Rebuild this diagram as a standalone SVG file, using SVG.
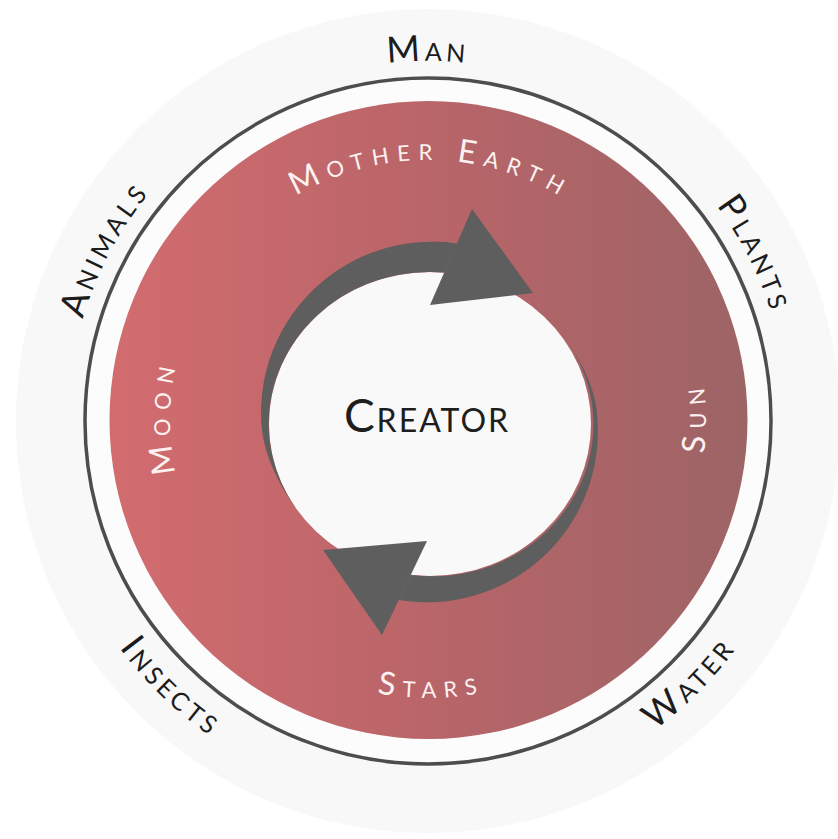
<svg xmlns="http://www.w3.org/2000/svg" width="838" height="839" viewBox="0 0 838 839">
<defs>
<linearGradient id="redGrad" gradientUnits="userSpaceOnUse" x1="110" y1="0" x2="747" y2="0">
<stop offset="0" stop-color="#d26c6f"/>
<stop offset="0.5" stop-color="#b96569"/>
<stop offset="1" stop-color="#9d6466"/>
</linearGradient>
<path id="p-man" d="M116.2,241 A360,360 0 0 1 739.8,241"/>
<path id="p-plants" d="M446.8,61.5 A360,360 0 0 1 729.9,617.1"/>
<path id="p-animals" d="M122.7,611.8 A360,360 0 0 1 415.4,61.2"/>
<path id="p-insects" d="M56.4,328.3 A383,383 0 0 0 533.6,789.2"/>
<path id="p-water" d="M328.9,791 A383,383 0 0 0 798,321.9"/>
<path id="p-earth" d="M183.7,331.1 A260,260 0 0 1 672.3,331.1"/>
<path id="p-moon" d="M339.8,662.4 A258,258 0 0 1 339.8,177.6"/>
<path id="p-stars" d="M166.8,515.1 A278,278 0 0 0 689.2,515.1"/>
<path id="p-sun" d="M523.1,681.2 A278,278 0 0 0 523.1,158.8"/>
</defs>
<style>
.out{font-family:Lato,"Open Sans","Liberation Sans",sans-serif;fill:#1c1c1c;letter-spacing:4px;font-size:36px;font-variant:small-caps}
.in{font-family:Lato,"Open Sans","Liberation Sans",sans-serif;fill:#fdf2f2;letter-spacing:8px;font-size:32px;font-variant:small-caps}
.arrow{fill:#5e5e5e}
</style>
<rect width="838" height="839" fill="#ffffff"/>
<g id="background">
<circle cx="428" cy="421" r="412" fill="#f8f8f8"/>
<circle cx="428" cy="421" r="343" fill="#fcfcfc" stroke="#4d4d4d" stroke-width="3.5"/>
</g>
<g id="mother-earth-disc">
<circle cx="428.5" cy="420" r="319" fill="url(#redGrad)"/>
</g>
<g id="creator">
<ellipse cx="430" cy="424" rx="161" ry="152" fill="#f9f9f9"/>
<text x="427" y="432" text-anchor="middle" font-family="Lato,'Open Sans','Liberation Sans',sans-serif" font-size="46" font-variant="small-caps" fill="#1e1e1e" letter-spacing="2">Creator</text>
</g>
<g id="connectors">
<path class="arrow" d="M456.9,243.5 A171,171 0 0 0 261.5,425 C263.7,455 279.4,485.7 297,510 A161,152 0 0 1 444.2,272.6 Z"/>
<polygon class="arrow" points="472,209 533,293 430,305"/>
<path class="arrow" d="M398.8,600 A171,171 0 0 0 597.5,419 C596.5,389 580,358 562,334 A161,152 0 0 1 410.8,574.9 Z"/>
<polygon class="arrow" points="382,635 323,550 427,541"/>
</g>
<g id="label-man"><text class="out" text-anchor="middle"><textPath href="#p-man" startOffset="50%">Man</textPath></text></g>
<g id="label-plants"><text class="out" text-anchor="middle"><textPath href="#p-plants" startOffset="50%">Plants</textPath></text></g>
<g id="label-animals"><text class="out" text-anchor="middle"><textPath href="#p-animals" startOffset="50%">Animals</textPath></text></g>
<g id="label-insects"><text class="out" text-anchor="middle"><textPath href="#p-insects" startOffset="50%">Insects</textPath></text></g>
<g id="label-water"><text class="out" text-anchor="middle"><textPath href="#p-water" startOffset="50%">Water</textPath></text></g>
<g id="label-mother-earth"><text class="in" text-anchor="middle"><textPath href="#p-earth" startOffset="50.5%">Mother Earth</textPath></text></g>
<g id="label-moon"><text class="in" text-anchor="middle"><textPath href="#p-moon" startOffset="50.5%">Moon</textPath></text></g>
<g id="label-stars"><text class="in" text-anchor="middle"><textPath href="#p-stars" startOffset="50.5%">Stars</textPath></text></g>
<g id="label-sun"><text class="in" text-anchor="middle"><textPath href="#p-sun" startOffset="50.5%">Sun</textPath></text></g>
</svg>
